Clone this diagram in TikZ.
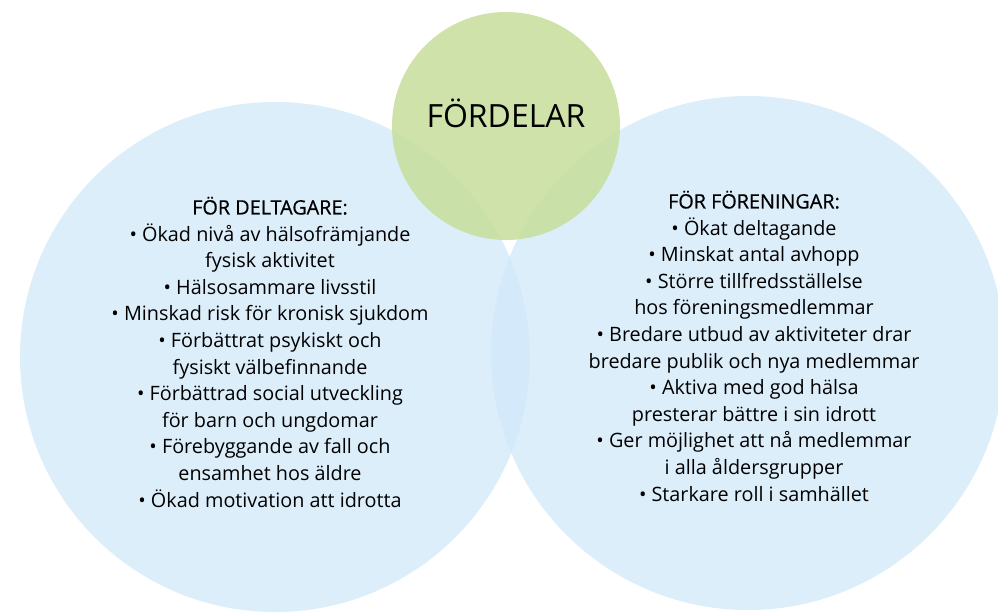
\documentclass[tikz,border=0pt]{standalone}
\usepackage{fontspec}
\setmainfont{Open Sans}
\definecolor{bluefill}{RGB}{209,233,250}
\definecolor{greenfill}{RGB}{198,222,155}
\tikzset{
  bluecirc/.style={circle, fill=bluefill, fill opacity=0.735, draw=none, inner sep=0pt},
  greencirc/.style={circle, fill=greenfill, fill opacity=0.85, draw=none, inner sep=0pt},
  bodytext/.style={align=center, inner sep=0pt, text=black, text opacity=1}
}
\newcommand{\hd}[1]{{\addfontfeature{FakeBold=0.6}#1}}
\begin{document}
\begin{tikzpicture}[x=1pt,y=-1pt]
\useasboundingbox (0,0) rectangle (998,613);
\fill[white] (0,0) rectangle (998,613);
\node[bluecirc, minimum size=510pt] (left) at (275,357) {};
\node[bluecirc, minimum size=514pt] (right) at (748,353) {};
\node[greencirc, minimum size=228pt] (top) at (506,126) {};
\node[bodytext, font=\fontsize{32}{36}\selectfont] (title) at (506,113) {FÖRDELAR};
\node[bodytext, font=\fontsize{19.8}{26.6}\selectfont] (deltagare) at (270,352) {%
\hd{FÖR DELTAGARE:}\\
• Ökad nivå av hälsofrämjande\\
fysisk aktivitet\\
• Hälsosammare livsstil\\
• Minskad risk för kronisk sjukdom\\
• Förbättrat psykiskt och\\
fysiskt välbefinnande\\
• Förbättrad social utveckling\\
för barn och ungdomar\\
• Förebyggande av fall och\\
ensamhet hos äldre\\
• Ökad motivation att idrotta};
\node[bodytext, font=\fontsize{19.8}{26.6}\selectfont] (foreningar) at (754,346) {%
\hd{FÖR FÖRENINGAR:}\\
• Ökat deltagande\\
• Minskat antal avhopp\\
• Större tillfredsställelse\\
hos föreningsmedlemmar\\
• Bredare utbud av aktiviteter drar\\
bredare publik och nya medlemmar\\
• Aktiva med god hälsa\\
presterar bättre i sin idrott\\
• Ger möjlighet att nå medlemmar\\
i alla åldersgrupper\\
• Starkare roll i samhället};
\end{tikzpicture}
\end{document}
